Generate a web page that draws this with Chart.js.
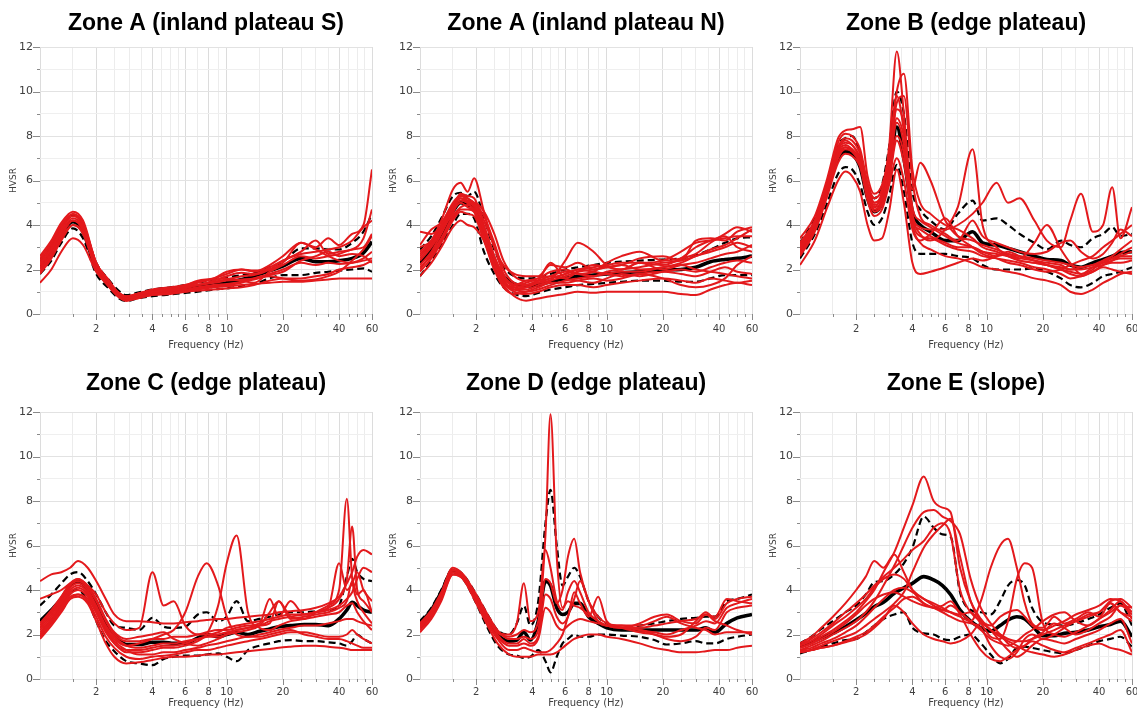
<!DOCTYPE html>
<html>
<head>
<meta charset="utf-8">
<script src="https://cdn.jsdelivr.net/npm/chart.js@4"></script>
<style>
  html, body { margin: 0; padding: 0; background: #ffffff; overflow: hidden; }
  body { width: 1137px; height: 715px; position: relative; }
  canvas { position: absolute; }
</style>
</head>
<body>
<script>
// ---------- axis ticks ----------
const xTickValues = [1.5, 2, 2.5, 3, 3.5, 4, 4.5, 5, 5.5, 6, 7, 8, 9, 10, 15, 20, 25, 30, 35, 40, 45, 50, 55, 60];
const xTickLabels = [2, 4, 6, 8, 10, 20, 40, 60];
const yTickLabels = [0, 2, 4, 6, 8, 10, 12];

// ---------- Zone A (inland plateau S) ----------
const titleAS = 'Zone A (inland plateau S)';
const freqAS = [1, 1.15, 1.3, 1.5, 1.7, 2, 2.3, 2.6, 2.9, 3.3, 4, 5, 6, 7, 8.5, 10, 12, 14, 17, 20, 25, 30, 35, 40, 47, 54, 60];
const meanAS = [2.1, 2.8, 3.6, 4.15, 3.7, 2.0, 1.4, 0.95, 0.72, 0.82, 0.95, 1.02, 1.1, 1.2, 1.3, 1.4, 1.55, 1.7, 1.95, 2.15, 2.5, 2.35, 2.35, 2.4, 2.5, 2.75, 3.25];
const upperAS = [2.4, 3.1, 3.9, 4.45, 4.0, 2.3, 1.6, 1.1, 0.85, 0.95, 1.1, 1.2, 1.3, 1.4, 1.55, 1.65, 1.75, 1.85, 2.1, 2.35, 2.95, 2.95, 2.9, 2.9, 3.2, 3.7, 4.5];
const lowerAS = [1.8, 2.4, 3.2, 3.85, 3.4, 1.8, 1.2, 0.75, 0.58, 0.7, 0.8, 0.88, 0.95, 1.0, 1.1, 1.15, 1.25, 1.35, 1.6, 1.75, 1.75, 1.85, 1.9, 1.95, 2.0, 2.05, 1.9];
const redAS = [
  [1.4, 2.0, 2.8, 3.4, 3.1, 1.9, 1.3, 0.8, 0.6, 0.7, 0.85, 0.95, 1.0, 1.1, 1.2, 1.25, 1.3, 1.35, 1.4, 1.45, 1.45, 1.5, 1.55, 1.6, 1.6, 1.6, 1.6],
  [2.6, 3.3, 4.1, 4.6, 4.2, 2.3, 1.6, 1.0, 0.7, 0.85, 1.0, 1.1, 1.25, 1.4, 1.6, 1.9, 2.0, 1.9, 2.2, 2.6, 3.2, 3.0, 3.4, 3.1, 3.6, 4.0, 6.5],
  [2.5, 3.2, 4.0, 4.5, 4.1, 2.3, 1.5, 0.9, 0.65, 0.8, 1.0, 1.05, 1.2, 1.3, 1.5, 1.7, 1.85, 1.8, 2.1, 2.4, 2.8, 3.3, 2.7, 2.8, 2.9, 3.4, 4.7],
  [2.2, 2.9, 3.7, 4.3, 3.9, 2.2, 1.5, 1.0, 0.8, 0.9, 1.05, 1.15, 1.3, 1.45, 1.55, 1.6, 1.5, 1.4, 1.9, 2.2, 2.6, 2.5, 2.6, 2.7, 2.9, 3.0, 3.6],
  [2.0, 2.7, 3.5, 4.2, 3.8, 2.1, 1.4, 0.9, 0.7, 0.75, 0.9, 0.95, 1.05, 1.15, 1.25, 1.3, 1.4, 1.6, 1.8, 2.0, 2.3, 2.2, 2.3, 2.25, 2.3, 2.5, 2.8],
  [1.9, 2.6, 3.4, 4.0, 3.6, 2.0, 1.3, 0.85, 0.6, 0.7, 0.85, 0.9, 1.0, 1.05, 1.1, 1.15, 1.2, 1.3, 1.5, 1.6, 1.6, 1.7, 1.8, 2.0, 2.1, 2.2, 2.4],
  [2.3, 3.0, 3.8, 4.4, 4.0, 2.2, 1.5, 0.95, 0.75, 0.9, 1.1, 1.2, 1.3, 1.5, 1.6, 1.8, 2.0, 1.95, 2.0, 2.3, 3.2, 2.9, 2.6, 2.4, 2.3, 2.4, 2.5],
  [2.1, 2.8, 3.6, 4.2, 3.8, 2.1, 1.45, 0.9, 0.7, 0.8, 0.95, 1.0, 1.1, 1.2, 1.3, 1.35, 1.45, 1.55, 1.75, 1.9, 2.4, 2.6, 2.8, 2.6, 2.7, 2.6, 2.3],
  [1.8, 2.5, 3.3, 4.0, 3.7, 2.0, 1.35, 0.85, 0.65, 0.8, 0.9, 1.0, 1.15, 1.3, 1.4, 1.5, 1.55, 1.6, 1.7, 1.6, 1.5, 1.55, 1.7, 1.9, 2.4, 2.9, 3.5],
  [2.4, 3.1, 3.9, 4.5, 4.0, 2.3, 1.55, 1.0, 0.8, 0.9, 1.05, 1.1, 1.2, 1.3, 1.45, 1.55, 1.7, 1.75, 2.0, 2.4, 2.7, 2.8, 2.9, 3.0, 3.3, 3.9, 4.2]
];

// ---------- Zone A (inland plateau N) ----------
const titleAN = 'Zone A (inland plateau N)';
const freqAN = [1, 1.15, 1.3, 1.5, 1.65, 1.8, 1.95, 2.2, 2.5, 2.8, 3.2, 3.7, 4.3, 5, 6, 7, 8.5, 10, 12, 15, 20, 25, 30, 36, 43, 50, 60];
const meanAN = [2.3, 2.9, 3.6, 4.6, 5.0, 4.9, 4.8, 3.5, 2.4, 1.7, 1.35, 1.25, 1.3, 1.45, 1.6, 1.7, 1.75, 1.8, 1.85, 1.9, 1.98, 2.0, 2.1, 2.35, 2.45, 2.5, 2.6];
const upperAN = [2.9, 3.5, 4.3, 5.3, 5.45, 5.3, 5.5, 4.3, 2.9, 2.1, 1.7, 1.6, 1.65, 1.8, 2.0, 2.1, 2.2, 2.3, 2.35, 2.4, 2.45, 2.5, 2.65, 2.9, 3.2, 3.4, 3.45];
const lowerAN = [1.7, 2.4, 3.1, 4.0, 4.5, 4.5, 4.3, 2.8, 1.8, 1.2, 0.9, 0.8, 0.95, 1.1, 1.2, 1.3, 1.35, 1.4, 1.45, 1.5, 1.5, 1.45, 1.45, 1.6, 1.75, 1.75, 1.75];
const redAN = [
  [3.7, 3.6, 3.9, 4.5, 5.4, 5.0, 4.6, 3.4, 2.2, 1.6, 1.3, 1.5, 1.6, 1.9, 2.0, 1.8, 1.9, 2.3, 2.6, 2.8, 2.4, 2.5, 2.7, 3.2, 3.6, 3.9, 3.7],
  [3.0, 3.3, 4.2, 5.6, 5.9, 5.5, 6.1, 4.6, 3.0, 2.2, 1.8, 1.7, 1.7, 2.2, 2.1, 2.3, 2.0, 2.1, 2.2, 2.5, 2.6, 2.4, 3.3, 3.4, 3.3, 3.7, 3.9],
  [1.7, 2.3, 3.0, 3.9, 4.2, 4.0, 3.9, 3.3, 2.2, 1.3, 0.8, 0.6, 0.7, 0.8, 0.9, 1.0, 0.95, 1.0, 1.0, 1.0, 1.0, 0.9, 0.85, 1.1, 1.3, 1.4, 1.3],
  [2.5, 3.1, 3.8, 4.8, 5.2, 5.1, 4.9, 4.2, 3.0, 1.8, 1.2, 1.1, 1.3, 1.5, 2.4, 3.2, 2.8, 2.2, 2.0, 2.3, 2.2, 2.5, 3.0, 3.3, 3.5, 3.0, 2.8],
  [2.0, 2.7, 3.4, 4.4, 4.8, 4.9, 4.7, 3.8, 2.6, 1.7, 1.3, 1.2, 1.5, 2.3, 1.6, 1.5, 1.4, 1.6, 1.8, 1.7, 1.9, 2.0, 1.9, 2.1, 2.3, 2.4, 2.3],
  [2.8, 3.3, 4.0, 5.0, 5.3, 5.2, 5.0, 4.4, 3.2, 2.0, 1.4, 1.3, 1.4, 1.5, 1.7, 1.9, 2.0, 2.1, 2.2, 2.0, 2.1, 2.3, 2.6, 2.8, 3.0, 3.2, 3.0],
  [2.2, 2.8, 3.6, 4.6, 5.0, 4.8, 4.6, 3.6, 2.2, 1.4, 1.0, 0.9, 1.0, 1.2, 1.3, 1.3, 1.2, 1.3, 1.4, 1.5, 1.6, 1.5, 1.4, 1.6, 1.5, 1.4, 1.5],
  [2.6, 3.2, 3.9, 4.9, 5.3, 5.2, 4.9, 3.9, 2.5, 1.6, 1.3, 1.4, 1.6, 1.7, 1.6, 1.9, 2.2, 2.1, 2.0, 2.3, 2.0, 2.2, 2.3, 2.5, 2.7, 2.8, 3.1],
  [1.9, 2.5, 3.2, 4.2, 4.6, 4.5, 4.4, 3.3, 2.0, 1.2, 0.9, 1.0, 1.2, 1.4, 1.4, 1.5, 1.6, 1.5, 1.6, 1.8, 1.9, 1.8, 1.7, 1.9, 2.1, 1.9, 1.8],
  [3.1, 3.8, 4.1, 4.9, 5.2, 5.0, 5.0, 4.6, 3.6, 2.4, 1.7, 1.5, 1.5, 1.6, 1.8, 2.0, 2.1, 2.2, 2.3, 2.3, 2.4, 2.8, 3.2, 3.3, 3.4, 3.5, 3.5],
  [2.4, 3.0, 3.7, 4.7, 5.1, 5.0, 4.8, 3.4, 2.0, 1.4, 1.1, 1.0, 1.1, 1.3, 1.5, 1.6, 1.7, 1.8, 1.9, 1.9, 2.1, 2.2, 2.0, 1.9, 1.8, 1.7, 1.6],
  [2.1, 2.6, 3.3, 4.3, 4.7, 4.7, 4.6, 3.7, 2.4, 1.5, 1.2, 1.3, 1.5, 1.7, 1.9, 1.8, 1.7, 1.9, 2.0, 2.1, 2.3, 2.4, 2.6, 2.9, 3.1, 3.4, 3.8],
  [2.7, 3.2, 3.8, 4.8, 5.4, 5.3, 5.2, 4.0, 2.6, 1.5, 1.1, 1.2, 1.4, 1.6, 1.8, 2.0, 1.9, 1.8, 1.7, 1.8, 1.6, 1.3, 1.2, 1.3, 1.6, 2.2, 2.6]
];

// ---------- Zone B (edge plateau) ----------
const titleB = 'Zone B (edge plateau)';
const freqB = [1, 1.2, 1.4, 1.6, 1.75, 1.9, 2.1, 2.3, 2.5, 2.75, 3.0, 3.3, 3.6, 4.0, 4.4, 5.0, 6, 7, 8.4, 9.5, 11.3, 13, 15, 18, 21, 25, 28, 32, 37, 42, 47, 52, 60];
const meanB = [2.8, 4.0, 5.6, 7.0, 7.3, 7.2, 6.6, 5.2, 4.6, 5.0, 6.3, 8.4, 7.0, 4.6, 4.0, 3.7, 3.3, 3.3, 3.7, 3.2, 3.1, 2.95, 2.8, 2.6, 2.45, 2.4, 2.2, 2.1, 2.3, 2.45, 2.6, 2.75, 2.8];
const upperB = [3.2, 4.3, 5.9, 7.6, 7.9, 8.0, 7.2, 5.7, 5.2, 5.8, 7.5, 10.0, 9.0, 5.5, 4.7, 4.2, 3.8, 4.5, 5.1, 4.2, 4.3, 4.0, 3.6, 3.2, 2.9, 3.3, 3.1, 3.0, 3.4, 3.6, 3.9, 3.5, 3.6];
const lowerB = [2.5, 3.6, 5.0, 6.3, 6.6, 6.5, 5.8, 4.6, 4.0, 4.3, 5.3, 6.7, 5.5, 3.2, 2.7, 2.7, 2.7, 2.6, 2.5, 2.2, 2.0, 2.0, 2.0, 2.05, 1.9, 1.6, 1.3, 1.2, 1.4, 1.7, 1.8, 1.9, 2.1];
const redB = [
  [3.0, 4.1, 5.7, 7.3, 7.6, 7.4, 6.8, 5.5, 4.8, 5.5, 7.5, 11.8, 9.0, 4.8, 4.2, 3.9, 3.5, 3.2, 3.0, 2.8, 2.7, 2.6, 2.5, 2.4, 2.3, 2.2, 2.0, 2.1, 2.2, 2.4, 2.5, 2.7, 3.0],
  [3.2, 4.2, 5.9, 7.7, 8.1, 8.0, 7.4, 5.9, 5.2, 5.6, 7.0, 10.0, 10.8, 6.5, 5.0, 4.5, 4.0, 3.8, 3.4, 3.0, 2.8, 2.6, 2.4, 2.3, 2.2, 2.0, 1.9, 1.8, 2.1, 2.3, 2.5, 2.6, 2.6],
  [2.2, 3.3, 4.8, 6.0, 6.4, 6.2, 5.5, 4.0, 3.3, 3.4, 4.6, 6.5, 5.0, 2.3, 1.8, 1.9, 2.1, 2.3, 2.5, 2.4, 2.6, 2.8, 2.6, 2.4, 2.2, 2.0, 1.8, 1.7, 1.9, 2.1, 2.0, 1.9, 1.8],
  [2.9, 4.0, 5.6, 7.4, 7.8, 7.6, 7.0, 5.6, 4.9, 5.2, 6.5, 8.8, 8.0, 5.6, 6.8, 6.0, 4.2, 3.5, 3.3, 3.1, 2.9, 2.7, 2.6, 2.5, 2.4, 2.3, 2.2, 2.1, 2.2, 2.3, 2.4, 2.5, 2.5],
  [3.1, 4.2, 5.8, 7.5, 7.9, 7.8, 7.2, 5.8, 5.0, 5.4, 6.8, 9.2, 8.5, 4.5, 3.6, 3.3, 3.8, 4.8, 7.4, 4.0, 3.0, 2.6, 2.4, 2.3, 2.2, 2.1, 2.0, 2.0, 2.1, 2.2, 2.3, 2.3, 2.4],
  [2.7, 3.8, 5.4, 7.0, 7.4, 7.3, 6.7, 5.3, 4.6, 4.9, 6.0, 7.8, 6.8, 4.4, 3.9, 3.8, 3.8, 4.0, 4.5, 5.0, 5.9, 5.0, 5.2, 4.2, 3.3, 3.0, 4.2, 5.4, 3.7, 4.0, 5.7, 3.4, 4.8],
  [3.4, 4.4, 6.1, 7.9, 8.25, 8.3, 8.4, 6.2, 5.4, 5.8, 7.2, 9.8, 8.2, 4.3, 3.5, 3.4, 3.1, 2.9, 2.8, 2.6, 2.5, 2.4, 2.3, 2.1, 2.0, 1.8, 1.6, 1.7, 1.9, 2.2, 2.4, 2.6, 2.8],
  [2.8, 3.9, 5.5, 7.1, 7.5, 7.4, 6.9, 5.4, 4.7, 5.0, 6.2, 8.0, 7.2, 4.0, 3.2, 2.9, 2.6, 2.5, 2.3, 2.1, 2.0, 1.9, 1.8, 1.6, 1.5, 1.3, 1.0, 0.9, 1.1, 1.4, 1.6, 1.8, 1.9],
  [2.9, 4.0, 5.6, 7.2, 7.5, 7.3, 6.8, 5.4, 4.8, 5.1, 6.4, 8.6, 7.6, 4.2, 3.8, 3.5, 3.2, 3.0, 3.0, 2.8, 2.6, 2.7, 2.5, 3.2, 4.0, 2.9, 2.3, 1.8, 2.0, 2.4, 2.6, 2.9, 3.3],
  [2.6, 3.7, 5.3, 6.8, 7.2, 7.1, 6.6, 5.1, 4.4, 4.7, 5.8, 7.0, 6.0, 3.8, 3.3, 3.6, 4.3, 3.5, 3.0, 2.7, 2.5, 2.3, 2.2, 2.0, 1.9, 2.0, 2.2, 2.4, 2.6, 3.0, 3.3, 3.6, 4.0],
  [3.0, 4.1, 5.7, 7.4, 7.7, 7.6, 7.0, 5.7, 5.0, 5.3, 6.6, 9.5, 9.8, 6.0, 4.4, 4.0, 3.6, 3.3, 4.2, 3.5, 3.2, 3.0, 2.8, 2.7, 2.8, 3.2, 3.3, 2.8, 2.5, 2.7, 3.2, 3.8, 3.5]
];

// ---------- Zone C (edge plateau) ----------
const titleC = 'Zone C (edge plateau)';
const freqC = [1, 1.15, 1.3, 1.45, 1.6, 1.8, 2.0, 2.25, 2.5, 2.9, 3.4, 4.0, 4.6, 5.2, 6, 7, 7.8, 9, 10, 11.3, 13, 15, 17, 19, 22, 26, 30, 35, 40, 44, 47, 50, 54, 60];
const meanC = [2.6, 3.1, 3.6, 4.2, 4.4, 4.0, 3.3, 2.5, 2.0, 1.55, 1.55, 1.65, 1.65, 1.6, 1.6, 1.85, 2.0, 1.9, 2.0, 2.1, 2.0, 2.15, 2.25, 2.35, 2.4, 2.45, 2.45, 2.4, 2.7, 3.1, 3.45, 3.3, 3.1, 3.0];
const upperC = [3.3, 3.8, 4.3, 4.7, 4.8, 4.4, 3.8, 3.0, 2.4, 2.3, 2.2, 2.75, 2.35, 2.3, 2.35, 2.9, 3.0, 2.6, 2.8, 3.5, 2.6, 2.7, 2.8, 2.9, 3.0, 3.0, 3.05, 3.1, 3.3, 4.6, 5.4, 4.8, 4.5, 4.4];
const lowerC = [1.9, 2.6, 3.3, 3.9, 4.0, 3.5, 2.6, 1.7, 1.25, 0.8, 0.7, 0.62, 0.9, 1.0, 1.05, 1.05, 1.1, 1.15, 1.0, 0.8, 1.3, 1.5, 1.6, 1.7, 1.75, 1.7, 1.7, 1.65, 1.6, 1.5, 1.7, 2.0, 1.8, 1.6];
const redC = [
  [4.4, 4.7, 4.8, 5.0, 5.3, 5.0, 4.4, 3.6, 2.9, 2.6, 2.6, 2.55, 2.5, 2.5, 2.55, 2.6, 2.65, 2.7, 2.7, 2.75, 2.8, 2.85, 2.9, 3.0, 3.05, 3.1, 3.2, 3.4, 3.7, 4.3, 4.8, 5.5, 5.8, 5.6],
  [3.6, 3.8, 4.0, 4.3, 4.5, 4.2, 3.8, 3.0, 2.5, 2.2, 2.3, 4.8, 3.3, 3.5, 2.4, 2.0, 2.0, 2.1, 2.3, 2.4, 2.5, 2.6, 2.7, 2.8, 2.9, 2.9, 3.0, 3.1, 3.3, 3.6, 3.9, 4.5, 5.0, 4.8],
  [2.2, 2.8, 3.4, 4.0, 4.2, 3.9, 3.2, 2.3, 1.8, 1.5, 1.6, 1.8, 2.0, 2.2, 3.0, 4.6, 5.2, 4.2, 2.8, 2.0, 1.9, 2.0, 2.1, 2.2, 2.3, 2.4, 2.4, 2.5, 2.6, 2.7, 2.7, 2.6, 2.5, 2.4],
  [2.0, 2.6, 3.2, 3.8, 4.0, 3.7, 3.0, 2.1, 1.6, 1.2, 1.2, 1.3, 1.4, 1.4, 1.5, 1.7, 2.0, 3.3, 5.2, 6.45, 3.0, 2.3, 2.2, 2.4, 2.6, 2.7, 2.8, 2.9, 3.0, 3.3, 3.4, 3.0, 2.6, 2.2],
  [2.1, 2.7, 3.3, 3.9, 4.1, 3.8, 3.1, 2.2, 1.6, 1.3, 1.3, 1.4, 1.5, 1.5, 1.6, 1.8, 1.9, 1.9, 2.0, 2.1, 2.2, 2.4, 3.0, 3.5, 2.8, 2.7, 3.0, 3.3, 4.0, 8.1, 4.5, 3.5, 3.0, 2.5],
  [2.3, 2.9, 3.5, 4.1, 4.3, 4.0, 3.3, 2.4, 1.9, 1.5, 1.4, 1.5, 1.6, 1.6, 1.7, 1.8, 1.9, 2.0, 2.1, 2.2, 2.3, 2.4, 2.6, 2.7, 2.8, 2.9, 3.0, 3.2, 3.6, 4.5, 6.85, 4.0, 3.5, 3.0],
  [1.9, 2.5, 3.1, 3.6, 3.7, 3.4, 2.6, 1.6, 1.0, 0.7, 0.75, 0.85, 0.95, 1.0, 1.0, 1.05, 1.1, 1.1, 1.15, 1.2, 1.25, 1.3, 1.35, 1.4, 1.45, 1.5, 1.5, 1.45, 1.4, 1.35, 1.3, 1.3, 1.3, 1.3],
  [2.4, 3.0, 3.6, 4.2, 4.4, 4.1, 3.5, 2.6, 2.0, 1.7, 1.7, 1.8, 1.8, 1.9, 1.9, 2.0, 2.1, 2.2, 2.2, 2.3, 2.4, 2.5, 3.6, 2.8, 3.5, 2.9, 3.0, 3.2, 5.2, 4.0, 4.3, 4.8, 4.0, 3.5],
  [2.0, 2.6, 3.2, 3.7, 3.8, 3.6, 3.0, 2.2, 1.7, 1.3, 1.1, 1.1, 1.2, 1.2, 1.3, 1.4, 1.5, 1.6, 1.7, 1.8, 1.9, 1.9, 2.0, 2.1, 2.2, 2.0, 1.9, 1.8, 1.8, 1.7, 1.6, 1.5, 1.4, 1.4],
  [2.5, 3.1, 3.7, 4.3, 4.5, 4.2, 3.6, 2.7, 2.1, 1.8, 1.9, 2.0, 2.1, 1.8, 1.6, 1.5, 1.6, 1.8, 2.0, 2.2, 2.3, 2.4, 2.5, 3.5, 2.7, 2.8, 2.9, 3.0, 3.2, 3.5, 4.4, 3.8, 4.0, 3.0],
  [1.8, 2.4, 3.0, 3.6, 3.8, 3.5, 2.8, 1.9, 1.4, 1.0, 0.9, 1.0, 1.05, 1.1, 1.2, 1.3, 1.3, 1.4, 1.5, 1.6, 1.7, 1.8, 1.9, 2.0, 2.1, 2.1, 2.0, 1.9, 1.9, 2.0, 2.2, 2.0, 1.8, 1.6]
];

// ---------- Zone D (edge plateau) ----------
const titleD = 'Zone D (edge plateau)';
const freqD = [1, 1.15, 1.3, 1.5, 1.7, 2.0, 2.3, 2.6, 3.0, 3.3, 3.6, 3.9, 4.3, 4.7, 5.0, 5.4, 5.8, 6.2, 6.7, 7.2, 8, 9, 10, 12, 15, 18, 21, 25, 30, 34, 38, 44, 50, 60];
const meanD = [2.5, 3.1, 3.9, 4.85, 4.6, 3.6, 2.7, 2.0, 1.7, 1.75, 2.1, 1.75, 2.6, 4.4, 4.2, 3.2, 2.9, 3.0, 3.4, 3.4, 2.8, 2.5, 2.3, 2.2, 2.2, 2.2, 2.2, 2.2, 2.2, 2.3, 2.1, 2.5, 2.75, 2.9];
const upperD = [2.6, 3.2, 4.0, 4.95, 4.7, 3.8, 2.9, 2.2, 2.0, 2.5, 3.3, 2.4, 3.5, 7.0, 8.5, 6.0, 4.2, 4.6, 5.0, 4.6, 3.5, 2.8, 2.5, 2.3, 2.4, 2.5, 2.6, 2.7, 2.75, 2.8, 2.8, 3.5, 3.6, 3.8];
const lowerD = [2.3, 2.9, 3.7, 4.8, 4.5, 3.4, 2.3, 1.5, 1.1, 1.05, 0.95, 1.0, 1.3, 0.8, 0.3, 1.0, 1.6, 1.8, 2.0, 1.9, 1.9, 2.0, 2.0, 1.95, 1.9, 1.75, 1.55, 1.6, 1.7, 1.6, 1.6, 1.8, 1.9, 2.0];
const redD = [
  [2.4, 3.0, 3.8, 4.9, 4.6, 3.7, 2.8, 2.1, 1.9, 2.0, 2.2, 2.1, 2.6, 6.5, 11.9, 5.5, 3.2, 3.5, 3.3, 3.2, 2.9, 2.6, 2.4, 2.3, 2.3, 2.4, 2.5, 2.6, 2.7, 2.9, 2.6, 2.4, 2.2, 2.0],
  [2.3, 2.9, 3.7, 4.8, 4.6, 3.6, 2.7, 2.1, 2.0, 2.5, 4.3, 2.6, 3.0, 5.8, 5.0, 3.5, 3.1, 3.9, 4.4, 3.9, 3.0, 2.6, 2.4, 2.3, 2.5, 2.8, 2.9, 2.6, 2.5, 2.9, 2.8, 3.6, 3.5, 3.4],
  [2.5, 3.1, 3.9, 5.0, 4.7, 3.8, 2.9, 2.2, 1.8, 1.8, 1.9, 1.8, 2.2, 4.5, 4.3, 3.4, 4.0, 5.5, 6.3, 4.8, 3.5, 2.6, 2.4, 2.4, 2.2, 2.1, 2.0, 2.2, 2.4, 2.6, 2.5, 3.2, 3.4, 3.6],
  [2.2, 2.8, 3.6, 4.7, 4.5, 3.4, 2.4, 1.6, 1.1, 1.0, 1.0, 1.0, 1.1, 1.1, 1.1, 1.2, 1.4, 1.6, 1.8, 1.9, 2.0, 2.0, 1.9, 1.8, 1.6, 1.4, 1.3, 1.2, 1.2, 1.25, 1.3, 1.3, 1.4, 1.5],
  [2.3, 2.9, 3.7, 4.8, 4.5, 3.5, 2.5, 1.8, 1.3, 1.3, 1.4, 1.3, 1.2, 1.2, 1.3, 1.6, 2.0, 2.8, 3.6, 4.4, 3.5, 2.8, 2.5, 2.4, 2.4, 2.6, 2.8, 2.5, 2.3, 2.2, 2.0, 2.1, 2.1, 2.1],
  [2.4, 3.0, 3.8, 4.9, 4.7, 3.7, 2.8, 2.0, 1.6, 1.6, 1.8, 1.6, 1.9, 3.8, 3.6, 2.8, 2.5, 2.8, 3.9, 3.4, 2.8, 3.7, 2.6, 2.3, 2.1, 2.0, 1.9, 2.0, 2.6, 3.0, 2.7, 3.4, 3.6, 3.7],
  [2.1, 2.7, 3.5, 4.7, 4.5, 3.5, 2.6, 1.9, 1.5, 1.5, 1.6, 1.5, 1.8, 3.2, 3.0, 2.4, 2.2, 2.4, 2.6, 2.7, 2.6, 2.5, 2.4, 2.3, 2.2, 2.0, 1.8, 1.7, 1.9, 2.3, 2.2, 3.0, 3.2, 3.3]
];

// ---------- Zone E (slope) ----------
const titleE = 'Zone E (slope)';
const freqE = [1, 1.15, 1.3, 1.5, 1.75, 2.0, 2.25, 2.5, 2.8, 3.2, 3.6, 4.0, 4.6, 5.2, 5.8, 6.4, 7.2, 8.2, 9.3, 10.5, 11.8, 13, 14.5, 16, 17.5, 20, 23, 26, 30, 35, 40, 46, 52, 60];
const meanE = [1.45, 1.65, 1.85, 2.05, 2.35, 2.65, 2.95, 3.25, 3.45, 3.85, 4.1, 4.3, 4.6, 4.45, 4.2, 3.8, 3.1, 2.6, 2.3, 2.15, 2.4, 2.65, 2.8, 2.7, 2.4, 1.95, 1.95, 2.05, 2.1, 2.2, 2.35, 2.45, 2.6, 1.9];
const upperE = [1.6, 1.9, 2.25, 2.6, 3.0, 3.3, 3.8, 4.35, 4.4, 4.7, 5.2, 5.9, 7.3, 6.8, 6.5, 6.4, 3.9, 3.1, 3.0, 2.9, 3.5, 4.2, 4.45, 4.2, 3.2, 2.55, 2.45, 2.4, 2.5, 2.7, 2.9, 3.2, 3.4, 2.4];
const lowerE = [1.15, 1.3, 1.45, 1.6, 1.75, 1.8, 2.1, 2.4, 2.7, 2.9, 3.0, 2.3, 2.05, 2.0, 1.8, 1.75, 1.9, 2.0, 1.6, 1.1, 0.7, 0.9, 1.4, 1.45, 1.4, 1.3, 1.2, 1.15, 1.3, 1.5, 1.7, 1.8, 1.9, 1.45];
const redE = [
  [1.4, 1.6, 1.9, 2.2, 2.6, 3.0, 3.5, 4.0, 4.8, 5.7, 6.8, 7.8, 9.1, 8.0, 7.7, 7.5, 5.0, 3.5, 2.7, 2.2, 2.0, 1.8, 1.7, 1.7, 1.8, 2.0, 2.2, 2.4, 2.6, 2.8, 3.0, 3.4, 3.0, 2.6],
  [1.3, 1.5, 1.7, 2.0, 2.3, 2.6, 3.0, 3.5, 4.2, 5.1, 6.0, 6.8, 7.5, 7.6, 7.3, 7.1, 6.5, 4.5, 3.2, 2.5, 2.0, 1.6, 1.4, 1.5, 1.8, 2.1, 2.5, 2.3, 2.0, 2.2, 2.5, 2.8, 3.3, 3.2],
  [1.5, 1.7, 2.0, 2.4, 2.8, 3.2, 3.6, 4.1, 4.5, 4.7, 4.5, 4.0, 3.6, 3.4, 3.2, 3.0, 2.8, 2.6, 3.5, 5.0, 6.0, 6.3, 5.0, 3.4, 2.5, 2.3, 2.8, 2.5, 2.7, 3.0, 2.8, 3.4, 3.0, 2.8],
  [1.6, 1.9, 2.3, 2.8, 3.4, 4.0, 4.6, 5.3, 5.0, 5.6, 4.8, 4.0, 3.4, 3.2, 3.0, 2.8, 2.6, 2.5, 2.3, 1.5, 1.0, 0.9, 1.2, 1.8, 2.0, 1.8, 2.0, 2.3, 2.6, 2.9, 3.0, 3.5, 3.6, 3.2],
  [1.3, 1.4, 1.6, 1.8, 2.1, 2.4, 2.8, 3.2, 3.6, 4.0, 4.1, 3.9, 3.6, 3.3, 3.1, 3.0, 2.9, 3.0, 2.5, 1.9, 1.8, 2.6, 4.5, 5.2, 5.0, 2.5, 2.0, 1.9, 2.1, 2.4, 2.7, 3.0, 3.3, 2.9],
  [1.2, 1.3, 1.5, 1.7, 1.9, 2.1, 2.4, 2.7, 3.0, 3.4, 3.9, 4.8, 5.9, 6.5, 6.9, 7.2, 5.5, 3.5, 2.6, 2.2, 1.7, 1.3, 1.0, 1.2, 1.5, 1.8, 1.7, 1.6, 1.8, 2.0, 2.2, 2.5, 2.7, 1.6],
  [1.2, 1.3, 1.4, 1.5, 1.7, 1.9, 2.1, 2.4, 2.8, 3.2, 3.6, 3.7, 3.4, 3.2, 3.3, 3.5, 2.9, 2.0, 1.3, 0.9, 0.8, 1.0, 1.3, 1.5, 1.7, 1.5, 1.3, 1.2, 1.4, 1.6, 1.8, 2.0, 2.2, 1.2],
  [1.25, 1.3, 1.4, 1.5, 1.65, 1.8, 2.0, 2.3, 2.7, 3.3, 3.0, 2.5, 2.0, 1.8, 1.7, 1.6, 1.7, 2.0, 2.5, 2.2, 1.9, 1.7, 1.5, 1.3, 1.2, 1.1, 1.0, 1.1, 1.3, 1.5, 1.6, 1.4, 1.3, 1.1],
  [1.4, 1.6, 1.8, 2.1, 2.5, 2.9, 3.3, 3.6, 3.8, 3.9, 3.7, 3.5, 3.3, 3.2, 3.1, 3.3, 3.0, 2.6, 2.2, 1.8, 1.6, 1.5, 1.7, 2.0, 2.2, 2.6, 2.9, 3.0, 2.6, 2.4, 2.7, 3.1, 3.5, 2.7],
  [1.5, 1.8, 2.1, 2.5, 3.0, 3.4, 3.8, 4.2, 4.6, 5.0, 5.4, 5.8, 6.2, 6.8, 7.0, 6.5, 4.0, 3.0, 2.6, 2.4, 2.8, 3.0, 3.1, 2.8, 2.4, 2.2, 2.4, 2.6, 2.9, 3.1, 3.3, 3.6, 3.5, 3.0]
];

// ---------- panels ----------
const panels = [
  { title: titleAS, freq: freqAS, mean: meanAS, upper: upperAS, lower: lowerAS, red: redAS },
  { title: titleAN, freq: freqAN, mean: meanAN, upper: upperAN, lower: lowerAN, red: redAN },
  { title: titleB,  freq: freqB,  mean: meanB,  upper: upperB,  lower: lowerB,  red: redB },
  { title: titleC,  freq: freqC,  mean: meanC,  upper: upperC,  lower: lowerC,  red: redC },
  { title: titleD,  freq: freqD,  mean: meanD,  upper: upperD,  lower: lowerD,  red: redD },
  { title: titleE,  freq: freqE,  mean: meanE,  upper: upperE,  lower: lowerE,  red: redE }
];

// ---------- styling / layout ----------
const RED = '#e3191c';
const TICK_FONT = "'DejaVu Sans', Verdana, sans-serif";
const TITLE_FONT = "'Liberation Sans', Arial, sans-serif";
const PLOT_LEFT = 40, PLOT_TOP = 47, PLOT_BOTTOM = 314, PLOT_RIGHT_GAP = 8, CANVAS_W = 380;

const tickMarks = {
  id: 'tickMarks',
  afterDraw(chart) {
    const { ctx, chartArea: a, scales: { x, y } } = chart;
    ctx.save();
    ctx.strokeStyle = '#8a8a8a';
    ctx.lineWidth = 1;
    ctx.beginPath();
    for (let v = 0; v <= 12; v++) {
      const py = Math.round(y.getPixelForValue(v)) + 0.5;
      const len = yTickLabels.includes(v) ? 7 : 3;
      ctx.moveTo(a.left - len, py);
      ctx.lineTo(a.left, py);
    }
    for (const f of xTickValues) {
      const px = Math.round(x.getPixelForValue(f)) + 0.5;
      const len = xTickLabels.includes(f) ? 6 : 3;
      ctx.moveTo(px, a.bottom);
      ctx.lineTo(px, a.bottom + len);
    }
    ctx.stroke();
    ctx.restore();
  }
};

function pts(freq, vals) {
  return freq.map((f, i) => ({ x: f, y: vals[i] }));
}

panels.forEach((p, idx) => {
  const row = Math.floor(idx / 3), col = idx % 3;
  const top = row === 0 ? 0 : 365;
  const h = row === 0 ? 360 : 350;
  const canvas = document.createElement('canvas');
  canvas.width = CANVAS_W;
  canvas.height = h;
  canvas.style.left = (col * 380) + 'px';
  canvas.style.top = top + 'px';
  canvas.style.width = CANVAS_W + 'px';
  canvas.style.height = h + 'px';
  document.body.appendChild(canvas);

  const datasets = [];
  p.red.forEach((r) => datasets.push({
    data: pts(p.freq, r), borderColor: RED, borderWidth: 2, pointRadius: 0,
    cubicInterpolationMode: 'monotone', fill: false
  }));
  [p.upper, p.lower].forEach((d) => datasets.push({
    data: pts(p.freq, d), borderColor: '#000000', borderWidth: 2.2, borderDash: [7, 4],
    pointRadius: 0, cubicInterpolationMode: 'monotone', fill: false
  }));
  datasets.push({
    data: pts(p.freq, p.mean), borderColor: '#000000', borderWidth: 3.6, pointRadius: 0,
    cubicInterpolationMode: 'monotone', fill: false
  });

  const titlePadTop = row === 0 ? 10.2 : 5.2;
  const titlePadBottom = (PLOT_TOP - titlePadTop - 23 * 1.2);

  new Chart(canvas.getContext('2d'), {
    type: 'line',
    data: { datasets },
    plugins: [tickMarks],
    options: {
      responsive: false,
      animation: false,
      devicePixelRatio: 1,
      events: [],
      layout: { padding: { left: 0, right: 0, top: 0, bottom: 0 } },
      plugins: {
        legend: { display: false },
        tooltip: { enabled: false },
        title: {
          display: true,
          text: p.title,
          fullSize: false,
          color: '#000000',
          font: { family: TITLE_FONT, size: 23, weight: 'bold', lineHeight: 1.2 },
          padding: { top: titlePadTop, bottom: titlePadBottom }
        }
      },
      scales: {
        x: {
          type: 'logarithmic',
          min: 1,
          max: 60,
          afterBuildTicks: (s) => { s.ticks = [1].concat(xTickValues).map((v) => ({ value: v })); },
          afterFit: (s) => {
            s.height = h - PLOT_BOTTOM;
            s.paddingLeft = 0;
            s.paddingRight = PLOT_RIGHT_GAP;
          },
          border: { display: false },
          grid: {
            drawTicks: false,
            color: (c) => (c.tick && (c.tick.value === 1 || xTickLabels.includes(c.tick.value))) ? '#dcdcdc' : '#ececec',
            lineWidth: 1
          },
          ticks: {
            autoSkip: false,
            maxRotation: 0,
            minRotation: 0,
            padding: row === 0 ? 9 : 7,
            color: '#404040',
            font: { family: TICK_FONT, size: 10 },
            callback: (v) => xTickLabels.includes(v) ? String(v) : ''
          },
          title: {
            display: true,
            text: 'Frequency (Hz)',
            color: '#404040',
            font: { family: TICK_FONT, size: 10 },
            padding: { top: 2, bottom: row === 0 ? 9 : 6 }
          }
        },
        y: {
          type: 'linear',
          min: 0,
          max: 12,
          afterFit: (s) => { s.width = PLOT_LEFT; },
          border: { display: false },
          grid: {
            drawTicks: false,
            color: (c) => (c.tick && yTickLabels.includes(c.tick.value)) ? '#e2e2e2' : '#efefef',
            lineWidth: 1
          },
          ticks: {
            stepSize: 1,
            autoSkip: false,
            padding: 7,
            color: '#404040',
            font: { family: TICK_FONT, size: 11 },
            callback: (v) => yTickLabels.includes(v) ? String(v) : ''
          },
          title: {
            display: true,
            text: 'HVSR',
            color: '#404040',
            font: { family: TICK_FONT, size: 9 },
            padding: { top: 8.5, bottom: 0 }
          }
        }
      }
    }
  });
});
</script>
</body>
</html>
